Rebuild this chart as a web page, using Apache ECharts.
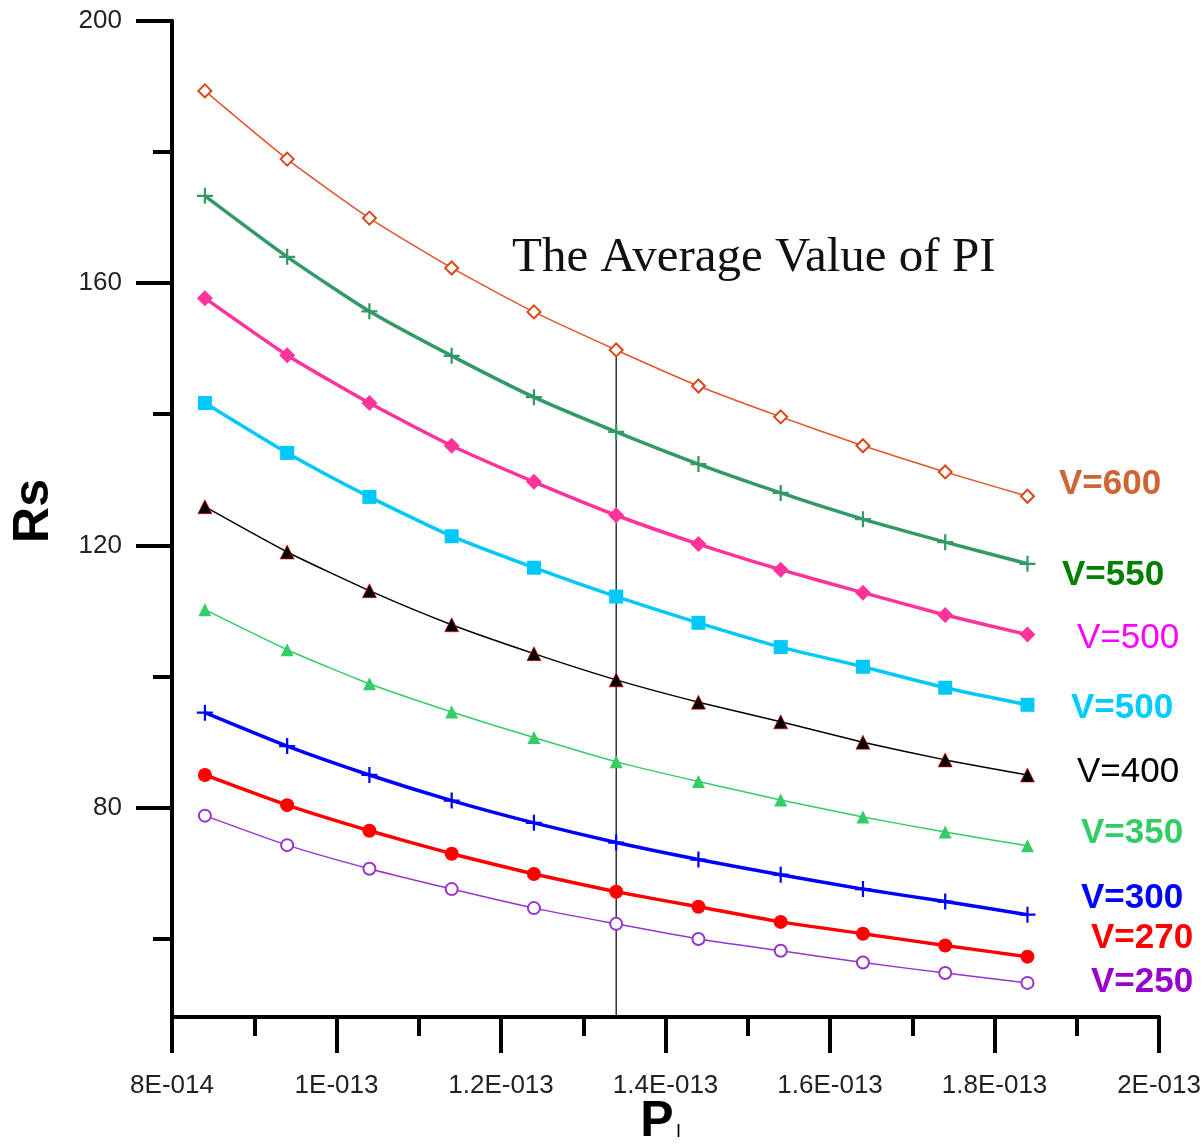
<!DOCTYPE html>
<html><head><meta charset="utf-8">
<script src="https://cdn.jsdelivr.net/npm/echarts@6/dist/echarts.min.js"></script>
<style>html,body{margin:0;padding:0;background:#fff}#c{width:1204px;height:1145px}</style>
</head><body><div id="c"></div>
<script>
// ---- data ----
const xValues = [8.4e-14, 9.4e-14, 1.04e-13, 1.14e-13, 1.24e-13, 1.34e-13, 1.44e-13, 1.54e-13, 1.64e-13, 1.74e-13, 1.84e-13];
const v600  = [189.3, 178.9, 169.9, 162.3, 155.6, 149.8, 144.3, 139.6, 135.2, 131.2, 127.5];
const v550  = [173.3, 164.0, 155.7, 148.9, 142.6, 137.3, 132.4, 128.0, 124.0, 120.5, 117.2];
const v500a = [157.7, 149.0, 141.7, 135.2, 129.7, 124.6, 120.2, 116.3, 112.8, 109.4, 106.4];
const v500b = [141.7, 134.1, 127.4, 121.4, 116.6, 112.2, 108.2, 104.5, 101.5, 98.3, 95.7];
const v400  = [125.9, 119.0, 113.1, 107.9, 103.5, 99.5, 96.1, 93.1, 90.0, 87.3, 85.0];
const v350  = [110.2, 104.1, 98.9, 94.6, 90.7, 87.0, 84.0, 81.2, 78.6, 76.3, 74.2];
const v300  = [94.5, 89.4, 85.0, 81.1, 77.7, 74.7, 72.1, 69.8, 67.6, 65.7, 63.7];
const v270  = [85.0, 80.4, 76.5, 73.0, 69.9, 67.2, 64.9, 62.6, 60.8, 59.0, 57.3];
const v250  = [78.8, 74.3, 70.7, 67.6, 64.7, 62.3, 60.0, 58.2, 56.4, 54.8, 53.3];
const seriesNames = ['V=600', 'V=550', 'V=500', 'V=500', 'V=400', 'V=350', 'V=300', 'V=270', 'V=250'];
const xTickLabels = ['8E-014', '1E-013', '1.2E-013', '1.4E-013', '1.6E-013', '1.8E-013', '2E-013'];
const yTickLabels = [80, 120, 160, 200];
const yMinorTicks = [60, 100, 140, 180];
const avgP = 1.34e-13;
const avgTitle = 'The Average Value of PI';
const xMin = 8e-14, xMax = 2e-13, xStep = 2e-14;
const yMin = 48.1, yMax = 200;

const pair = arr => arr.map((v, i) => [xValues[i], v]);
const plus = 'path://M0,4.3H10V5.7H0Z M4.3,0H5.7V10H4.3Z';

function line(name, data, color, width, symbol, size, extra) {
  return Object.assign({
    name, type: 'line', data: pair(data), smooth: 0.2,
    lineStyle: { color, width }, itemStyle: { color },
    symbol, symbolSize: size, showAllSymbol: true,
    emphasis: { disabled: true }, z: 3
  }, extra || {});
}

const series = [
  line(seriesNames[0], v600, '#E0552B', 1.5, 'emptyDiamond', 13, { itemStyle: { color: '#D8481A', borderWidth: 2.2 } }),
  line(seriesNames[1], v550, '#339966', 3.5, plus, 16),
  line(seriesNames[2], v500a, '#FF3399', 3.5, 'diamond', 16),
  line(seriesNames[3], v500b, '#00C8F8', 3.5, 'rect', 14),
  line(seriesNames[4], v400, '#000000', 1.5, 'triangle', 14, { itemStyle: { color: '#000', borderColor: '#f00', borderWidth: 0.6 } }),
  line(seriesNames[5], v350, '#33CC66', 1.5, 'triangle', 13),
  line(seriesNames[6], v300, '#0000FF', 3.5, plus, 16),
  line(seriesNames[7], v270, '#FF0000', 3.5, 'circle', 14),
  line(seriesNames[8], v250, '#9933CC', 1.5, 'emptyCircle', 12, { itemStyle: { color: '#9933CC', borderWidth: 2.2 } }),
  {
    type: 'line', data: [[avgP, yMin], [avgP, v600[5]]], symbol: 'none',
    lineStyle: { color: '#000', width: 1.2 }, emphasis: { disabled: true }, z: 2, silent: true
  }
];

const labelFont = 'Liberation Sans, Arial, sans-serif';
const rightLabels = [
  { t: 'V=600', x: 1059, y: 484, c: '#CD6535', w: 'bold' },
  { t: 'V=550', x: 1062, y: 575, c: '#008000', w: 'bold' },
  { t: 'V=500', x: 1077, y: 638, c: '#FF00FF', w: 'normal' },
  { t: 'V=500', x: 1071, y: 708, c: '#00CCFF', w: 'bold' },
  { t: 'V=400', x: 1077, y: 772, c: '#000000', w: 'normal' },
  { t: 'V=350', x: 1081, y: 833, c: '#33CC66', w: 'bold' },
  { t: 'V=300', x: 1081, y: 898, c: '#0000FF', w: 'bold' },
  { t: 'V=270', x: 1091, y: 938, c: '#FF0000', w: 'bold' },
  { t: 'V=250', x: 1091, y: 982, c: '#9900CC', w: 'bold' }
];

const graphics = rightLabels.map(l => ({
  type: 'text', x: l.x, y: l.y, silent: true,
  style: { text: l.t, fill: l.c, font: l.w + ' 35px ' + labelFont, align: 'left', verticalAlign: 'middle' }
}));
graphics.push({
  type: 'text', x: 512, y: 258, silent: true,
  style: { text: avgTitle, fill: '#111', font: '49px Liberation Serif, serif', align: 'left', verticalAlign: 'middle' }
});
graphics.push({
  type: 'text', x: 34, y: 511, rotation: Math.PI / 2, silent: true,
  style: { text: 'Rs', fill: '#000', font: 'bold 50px ' + labelFont, align: 'center', verticalAlign: 'middle' }
});
graphics.push({
  type: 'text', x: 657, y: 1122, silent: true,
  style: { text: 'P', fill: '#000', font: 'bold 50px ' + labelFont, align: 'center', verticalAlign: 'middle' }
});
graphics.push({
  type: 'text', x: 676, y: 1132, silent: true,
  style: { text: 'I', fill: '#000', font: '18px ' + labelFont, align: 'left', verticalAlign: 'middle' }
});

const axisLineStyle = { color: '#000', width: 4 };
const option = {
  animation: false,
  backgroundColor: '#fff',
  grid: { left: 172, right: 44, top: 20.7, bottom: 128, containLabel: false },
  xAxis: {
    type: 'value', min: xMin, max: xMax, interval: xStep,
    axisLine: { show: true, lineStyle: axisLineStyle },
    axisTick: { show: true, length: 36, lineStyle: { color: '#000', width: 4 } },
    minorTick: { show: true, splitNumber: 2, length: 19, lineStyle: { color: '#000', width: 4 } },
    splitLine: { show: false },
    axisLabel: {
      margin: 56, fontSize: 26, color: '#222', fontFamily: labelFont,
      formatter: v => xTickLabels[Math.round((v - xMin) / xStep)] || ''
    }
  },
  yAxis: [
    {
      type: 'value', min: yMin, max: yMax,
      axisLine: { show: true, lineStyle: axisLineStyle },
      axisTick: { show: true, length: 36, customValues: yTickLabels, lineStyle: { color: '#000', width: 4 } },
      splitLine: { show: false },
      axisLabel: { customValues: yTickLabels, margin: 50, fontSize: 26, color: '#222', fontFamily: labelFont }
    },
    {
      type: 'value', min: yMin, max: yMax, position: 'left',
      axisLine: { show: false },
      axisTick: { show: true, length: 19, customValues: yMinorTicks, lineStyle: { color: '#000', width: 4 } },
      splitLine: { show: false },
      axisLabel: { show: false, customValues: yMinorTicks }
    }
  ],
  series,
  graphic: graphics
};
const chart = echarts.init(document.getElementById('c'), null, { renderer: 'canvas' });
chart.setOption(option);
</script></body></html>
